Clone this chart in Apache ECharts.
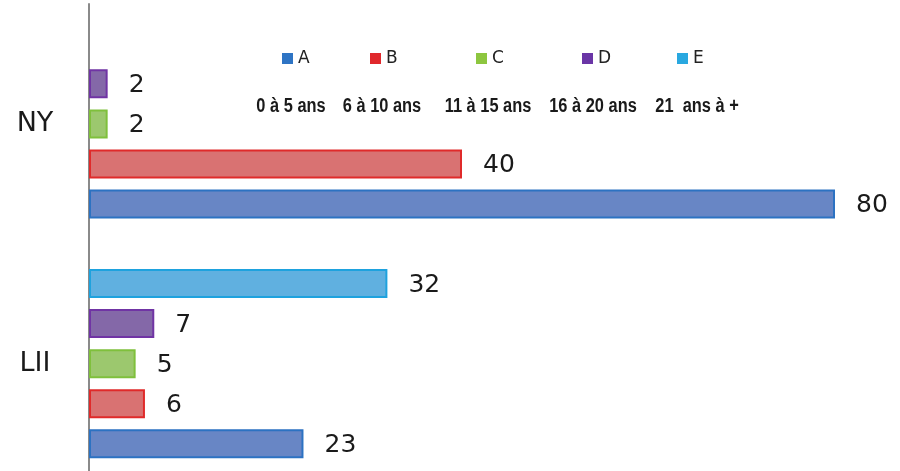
<!DOCTYPE html>
<html>
<head>
<meta charset="utf-8">
<script src="https://cdn.jsdelivr.net/npm/echarts@6/dist/echarts.min.js"></script>
<style>
html,body{margin:0;padding:0;background:#fff;}
#chart{width:900px;height:471px;}
</style>
</head>
<body>
<div id="chart"></div>
<script>
// ---- data ----
const categories = ['LII', 'NY'];
const seriesNames = ['A', 'B', 'C', 'D', 'E'];
const ageLabels = ['0 à 5 ans', '6 à 10 ans', '11 à 15 ans', '16 à 20 ans', '21  ans à +'];
const valuesA = [23, 80];
const valuesB = [6, 40];
const valuesC = [5, 2];
const valuesD = [7, 2];
const valuesE = [32, null];

// ---- styling ----
const allValues = [valuesA, valuesB, valuesC, valuesD, valuesE];
const fills   = ['#6886C5', '#D97272', '#9CC86E', '#8468A8', '#60B0E0'];
const borders = ['#2C72C2', '#E02A2A', '#7FC03C', '#7034A4', '#1EA2DE'];
const legendColors = ['#2E74C4', '#E0282C', '#8DC63F', '#6A35A6', '#29A8E0'];
const legendIconX = [282, 370, 476, 582, 677];
const ageLabelCenterX = [291, 382, 488, 593, 697];

const chart = echarts.init(document.getElementById('chart'), null, {renderer: 'canvas'});

// series drawn top-to-bottom within a band: E, D, C, B, A
const order = [4, 3, 2, 1, 0];
const series = order.map(i => ({
  name: seriesNames[i],
  type: 'bar',
  data: allValues[i],
  barWidth: 29,
  barGap: '38%',
  itemStyle: { color: fills[i], borderColor: borders[i], borderWidth: 2 },
  label: {
    show: true,
    position: 'right',
    distance: 21,
    fontFamily: 'DejaVu Sans',
    fontSize: 25,
    color: '#1a1a1a',
    offset: [0, 2]
  }
}));

const legends = seriesNames.map((name, i) => ({
  show: true,
  left: legendIconX[i],
  top: 50,
  padding: 0,
  itemWidth: 11,
  itemHeight: 11,
  icon: 'rect',
  selectedMode: false,
  data: [{ name: name, itemStyle: { color: legendColors[i], borderWidth: 0 } }],
  textStyle: { fontFamily: 'DejaVu Sans', fontSize: 17, color: '#222', lineHeight: 17 }
}));

const graphics = ageLabels.map((t, i) => ({
  type: 'text',
  x: ageLabelCenterX[i],
  y: 106,
  scaleX: 0.82,
  style: {
    text: t,
    x: 0, y: 0,
    align: 'center',
    verticalAlign: 'middle',
    font: 'bold 20px "Liberation Sans", sans-serif',
    fill: '#1a1a1a'
  }
}));

chart.setOption({
  animation: false,
  backgroundColor: '#ffffff',
  legend: legends,
  graphic: graphics,
  grid: { left: 89, right: 65, top: 4, bottom: -12.5, outerBoundsMode: 'none', containLabel: false },
  xAxis: {
    type: 'value',
    min: 0,
    max: 80,
    show: false
  },
  yAxis: {
    type: 'category',
    data: categories,
    axisLine: { show: true, lineStyle: { color: '#8a8a8a', width: 2 } },
    axisTick: { show: false },
    axisLabel: {
      align: 'center',
      margin: 54,
      fontFamily: 'DejaVu Sans',
      fontSize: 27,
      color: '#1a1a1a'
    },
    splitLine: { show: false }
  },
  series: series
});
</script>
</body>
</html>
